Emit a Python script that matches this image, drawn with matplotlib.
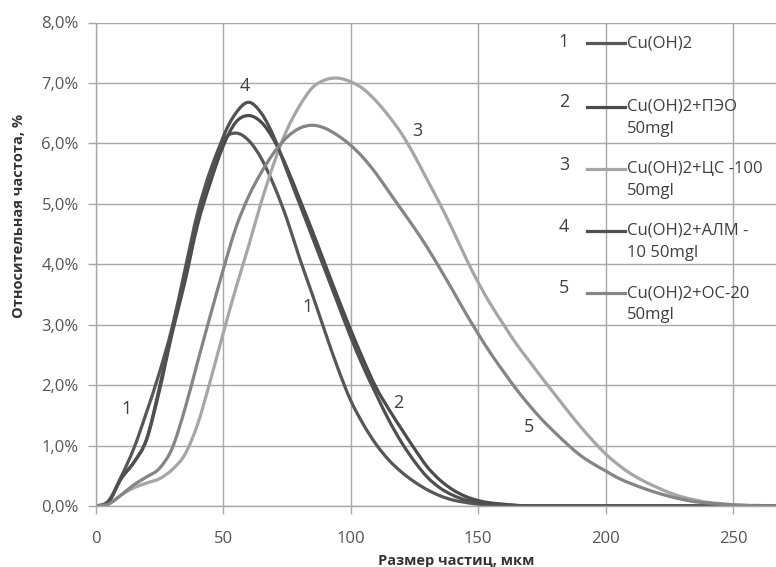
import matplotlib
matplotlib.use('Agg')
import matplotlib.pyplot as plt
from matplotlib.lines import Line2D
from matplotlib.path import Path
from matplotlib.patches import PathPatch

plt.rcParams['font.family'] = ['Open Sans', 'DejaVu Sans']

# ---------------- data ----------------
size_um = [0, 5, 10, 15, 20, 25, 30, 35, 40, 45, 50, 55, 60, 65, 70, 75, 80, 85, 90, 95,
           100, 105, 110, 115, 120, 125, 130, 135, 140, 145, 150, 155, 160, 165, 170, 175,
           180, 185, 190, 195, 200, 205, 210, 215, 220, 225, 230, 235, 240, 245, 250, 255,
           260, 265, 270]

s1_cuoh2 = [0, 0.08, 0.48, 0.95, 1.55, 2.2, 2.95, 3.9, 4.85, 5.55, 6.05, 6.17, 6.05, 5.75, 5.3,
            4.75, 4.1, 3.5, 2.88, 2.28, 1.75, 1.35, 1.02, 0.76, 0.56, 0.4, 0.27, 0.17, 0.1,
            0.06, 0.03, 0.02, 0.01, 0, 0, 0, 0, 0, 0, 0, 0, 0, 0, 0, 0, 0, 0, 0, 0, 0, 0, 0,
            0, 0, 0]

s2_peo = [0, 0.06, 0.45, 0.72, 1.1, 1.9, 2.85, 3.7, 4.65, 5.35, 5.95, 6.35, 6.46, 6.35, 6.05,
          5.6, 5.08, 4.55, 4.0, 3.45, 2.92, 2.42, 1.96, 1.6, 1.27, 0.95, 0.65, 0.43, 0.27,
          0.16, 0.09, 0.05, 0.03, 0.01, 0, 0, 0, 0, 0, 0, 0, 0, 0, 0, 0, 0, 0, 0, 0, 0, 0, 0,
          0, 0, 0]

s3_cs100 = [0, 0.03, 0.18, 0.3, 0.38, 0.45, 0.6, 0.85, 1.35, 2.07, 2.85, 3.6, 4.3, 5.03, 5.68,
            6.22, 6.62, 6.92, 7.05, 7.08, 7.02, 6.9, 6.7, 6.45, 6.16, 5.8, 5.4, 5.0, 4.57,
            4.12, 3.7, 3.33, 3.0, 2.68, 2.4, 2.12, 1.85, 1.58, 1.32, 1.08, 0.86, 0.68, 0.53,
            0.41, 0.31, 0.22, 0.15, 0.1, 0.06, 0.04, 0.02, 0.01, 0.01, 0, 0]

s4_alm = [0, 0.06, 0.45, 0.72, 1.1, 1.95, 2.9, 3.8, 4.75, 5.45, 6.1, 6.5, 6.68, 6.5, 6.1,
          5.55, 5.0, 4.45, 3.9, 3.35, 2.8, 2.3, 1.85, 1.42, 1.05, 0.74, 0.48, 0.3, 0.18,
          0.1, 0.06, 0.03, 0.02, 0.01, 0, 0, 0, 0, 0, 0, 0, 0, 0, 0, 0, 0, 0, 0, 0, 0, 0, 0,
          0, 0, 0]

s5_os20 = [0, 0.03, 0.18, 0.35, 0.48, 0.62, 0.95, 1.6, 2.38, 3.15, 3.9, 4.6, 5.12, 5.52, 5.85,
           6.1, 6.25, 6.3, 6.25, 6.13, 5.97, 5.76, 5.5, 5.2, 4.9, 4.6, 4.28, 3.93, 3.57,
           3.2, 2.85, 2.52, 2.22, 1.93, 1.67, 1.43, 1.22, 1.02, 0.84, 0.7, 0.58, 0.46, 0.37,
           0.29, 0.22, 0.16, 0.11, 0.07, 0.05, 0.03, 0.02, 0.01, 0, 0, 0]

series = [s1_cuoh2, s2_peo, s3_cs100, s4_alm, s5_os20]
series_numbers = ['1', '2', '3', '4', '5']
legend_lines = [['Cu(OH)2'],
                ['Cu(OH)2+ПЭО', '50mgl'],
                ['Cu(OH)2+ЦС -100', '50mgl'],
                ['Cu(OH)2+АЛМ -', '10 50mgl'],
                ['Cu(OH)2+ОС-20', '50mgl']]
colors = ['#575757', '#4b4b4b', '#a6a6a6', '#505050', '#858585']

x_ticks = [0, 50, 100, 150, 200, 250]
y_ticks = [0, 1, 2, 3, 4, 5, 6, 7, 8]
y_tick_labels = ['0,0%', '1,0%', '2,0%', '3,0%', '4,0%', '5,0%', '6,0%', '7,0%', '8,0%']
x_label = 'Размер частиц, мкм'
y_label = 'Относительная частота, %'

# curve annotations: (label, x in data, y in data)
curve_labels = [('1', 12.3, 1.6), ('1', 83, 3.3), ('2', 118.5, 1.7), ('3', 126, 6.2),
                ('4', 58.5, 6.95), ('5', 170, 1.3)]


def smooth_path(xs, ys):
    """Excel-like smoothed line: cubic Bezier segments through the data points."""
    n = len(xs)
    verts = [(xs[0], ys[0])]
    codes = [Path.MOVETO]
    for i in range(n - 1):
        x0, y0 = (xs[i - 1], ys[i - 1]) if i > 0 else (xs[i], ys[i])
        x1, y1 = xs[i], ys[i]
        x2, y2 = xs[i + 1], ys[i + 1]
        x3, y3 = (xs[i + 2], ys[i + 2]) if i + 2 < n else (xs[i + 1], ys[i + 1])
        c1 = (x1 + (x2 - x0) / 6.0, y1 + (y2 - y0) / 6.0)
        c2 = (x2 - (x3 - x1) / 6.0, y2 - (y3 - y1) / 6.0)
        verts += [c1, c2, (x2, y2)]
        codes += [Path.CURVE4, Path.CURVE4, Path.CURVE4]
    return Path(verts, codes)


# ---------------- figure ----------------
W, H = 776, 567
fig = plt.figure(figsize=(W / 100, H / 100), dpi=100)
ax = fig.add_axes([95.5 / W, (H - 506) / H, (W - 95.5) / W, (506 - 22.5) / H])

grid_c = '#a8a8a8'
ax.set_xlim(0, (W - 95.5) / 2.551)
ax.set_ylim(0, 8)
ax.set_xticks(x_ticks)
ax.set_yticks(y_ticks)
ax.set_yticklabels(y_tick_labels)
ax.grid(True, color=grid_c, linewidth=1.0)
ax.set_axisbelow(True)
for side in ['top', 'right']:
    ax.spines[side].set_visible(False)
for side in ['left', 'bottom']:
    ax.spines[side].set_color(grid_c)
    ax.spines[side].set_linewidth(1.0)
ax.tick_params(axis='both', colors=grid_c, length=6, width=1.0, labelsize=12,
               labelcolor='#555555')
ax.tick_params(axis='y', pad=6)
ax.tick_params(axis='x', pad=12)

for ys, c in zip(series, colors):
    ax.add_patch(PathPatch(smooth_path(size_um, ys), facecolor='none', edgecolor=c,
                           linewidth=2.3, capstyle='round', joinstyle='round'))

for lab, xv, yv in curve_labels:
    ax.text(xv, yv, lab, fontsize=13, color='#3f3f3f', ha='center', va='center')

ax.set_xlabel(x_label, fontsize=10.5, fontweight='bold', color='#333333')
ax.xaxis.set_label_coords((456 - 95.5) / (W - 95.5), -(554 - 506) / (506 - 22.5))
ax.set_ylabel(y_label, fontsize=10.5, fontweight='bold', color='#333333')
ax.yaxis.set_label_coords(-(95.5 - 26) / (W - 95.5), (506 - 216) / (506 - 22.5))

# legend drawn as free text (numbers, short lines, labels)
num_y = [41.7, 101.7, 165, 226.7, 288.3]
line_y = [43.3, 106.7, 169.3, 230.7, 293.3]
for i in range(5):
    fig.text(564 / W, 1 - num_y[i] / H, series_numbers[i], fontsize=13, color='#3f3f3f',
             ha='center', va='center')
    fig.add_artist(Line2D([587 / W, 625 / W], [1 - line_y[i] / H] * 2, color=colors[i],
                          linewidth=2.3, transform=fig.transFigure))
    for j, t in enumerate(legend_lines[i]):
        fig.text(627 / W, 1 - (line_y[i] + j * 22) / H, t, fontsize=12, color='#3f3f3f',
                 ha='left', va='center')

fig.savefig('out.png', dpi=100)
